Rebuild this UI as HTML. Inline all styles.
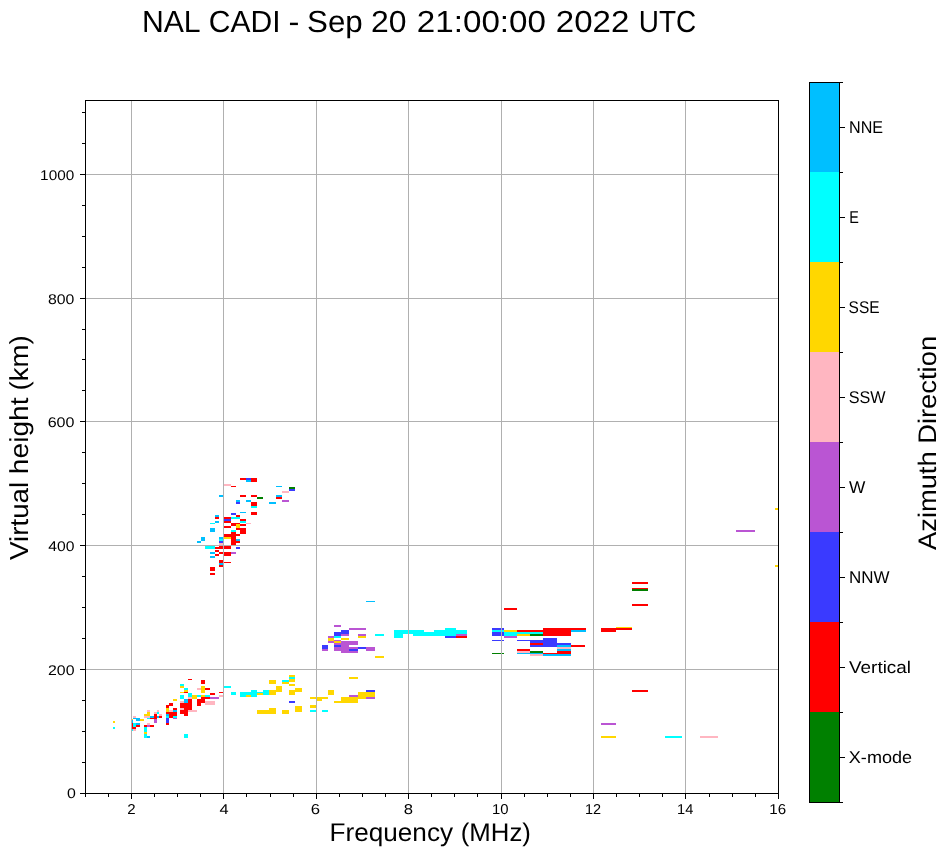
<!DOCTYPE html>
<html><head><meta charset="utf-8"><style>
html,body{margin:0;padding:0;background:#fff;width:951px;height:856px;overflow:hidden}
svg{display:block;will-change:transform} text{text-rendering:geometricPrecision}
</style></head><body>
<svg width="951" height="856" viewBox="0 0 951 856" shape-rendering="crispEdges">
<rect x="113.0" y="720.9" width="2.0" height="2.0" fill="#ffd700"/>
<rect x="113.0" y="726.9" width="2.0" height="2.0" fill="#00ffff"/>
<rect x="132.0" y="718.9" width="1.0" height="1.5" fill="#ffd700"/>
<rect x="132.0" y="720.4" width="1.0" height="2.5" fill="#00bfff"/>
<rect x="132.0" y="722.9" width="1.2" height="6.0" fill="#ff0000"/>
<rect x="132.0" y="728.9" width="1.2" height="2.0" fill="#00ffff"/>
<rect x="133.2" y="715.9" width="2.8" height="2.0" fill="#ffb6c1"/>
<rect x="133.2" y="717.9" width="2.8" height="1.0" fill="#00bfff"/>
<rect x="136.0" y="717.9" width="4.0" height="3.0" fill="#00bfff"/>
<rect x="140.0" y="718.9" width="4.0" height="2.0" fill="#ffd700"/>
<rect x="133.2" y="722.9" width="2.8" height="4.0" fill="#00ffff"/>
<rect x="136.0" y="722.9" width="4.0" height="2.0" fill="#00bfff"/>
<rect x="136.0" y="724.9" width="4.0" height="2.0" fill="#ff0000"/>
<rect x="133.2" y="726.9" width="2.8" height="2.0" fill="#ff0000"/>
<rect x="133.2" y="728.9" width="2.8" height="2.0" fill="#ffb6c1"/>
<rect x="147.0" y="710.0" width="3.0" height="2.0" fill="#ffb6c1"/>
<rect x="147.0" y="712.0" width="3.0" height="2.0" fill="#ffd700"/>
<rect x="144.0" y="714.0" width="6.0" height="1.9" fill="#ffd700"/>
<rect x="144.0" y="715.9" width="6.0" height="2.0" fill="#ffb6c1"/>
<rect x="147.0" y="717.9" width="3.0" height="1.0" fill="#00ffff"/>
<rect x="150.0" y="715.9" width="4.0" height="2.0" fill="#00bfff"/>
<rect x="150.0" y="717.9" width="4.0" height="1.0" fill="#ff0000"/>
<rect x="154.0" y="712.0" width="2.9" height="2.0" fill="#ffb6c1"/>
<rect x="156.9" y="712.0" width="2.0" height="2.0" fill="#00ffff"/>
<rect x="156.9" y="710.0" width="2.0" height="2.0" fill="#ffb6c1"/>
<rect x="154.0" y="714.0" width="2.9" height="4.9" fill="#ff0000"/>
<rect x="156.9" y="715.9" width="2.0" height="2.0" fill="#00bfff"/>
<rect x="158.9" y="714.0" width="3.0" height="1.9" fill="#ffb6c1"/>
<rect x="158.9" y="715.9" width="3.0" height="2.0" fill="#ff0000"/>
<rect x="154.0" y="718.9" width="2.9" height="4.0" fill="#ba55d3"/>
<rect x="147.0" y="722.9" width="3.0" height="2.0" fill="#ffb6c1"/>
<rect x="144.0" y="724.9" width="3.0" height="2.0" fill="#ff0000"/>
<rect x="147.0" y="724.9" width="3.0" height="2.0" fill="#ba55d3"/>
<rect x="150.0" y="724.9" width="4.0" height="2.0" fill="#ff0000"/>
<rect x="144.0" y="726.9" width="3.0" height="5.0" fill="#00ffff"/>
<rect x="144.0" y="731.9" width="3.0" height="2.0" fill="#ffd700"/>
<rect x="144.0" y="733.9" width="3.0" height="4.0" fill="#00ffff"/>
<rect x="147.0" y="735.9" width="3.0" height="2.0" fill="#00bfff"/>
<rect x="172.9" y="699.0" width="4.0" height="2.0" fill="#ffd700"/>
<rect x="165.9" y="705.0" width="3.0" height="3.0" fill="#ff0000"/>
<rect x="168.9" y="703.0" width="4.0" height="3.0" fill="#ff0000"/>
<rect x="165.9" y="708.0" width="3.0" height="4.0" fill="#ffd700"/>
<rect x="165.9" y="712.0" width="3.0" height="2.0" fill="#ff0000"/>
<rect x="165.9" y="714.0" width="3.0" height="1.9" fill="#00bfff"/>
<rect x="165.9" y="715.9" width="3.0" height="2.0" fill="#00ffff"/>
<rect x="165.9" y="717.9" width="3.0" height="5.0" fill="#3a3aff"/>
<rect x="165.9" y="722.9" width="3.0" height="2.0" fill="#ff0000"/>
<rect x="168.9" y="710.0" width="4.0" height="2.0" fill="#ffb6c1"/>
<rect x="168.9" y="712.0" width="4.0" height="5.9" fill="#ff0000"/>
<rect x="172.9" y="708.0" width="4.0" height="2.0" fill="#ff0000"/>
<rect x="172.9" y="710.0" width="4.0" height="2.0" fill="#00bfff"/>
<rect x="172.9" y="712.0" width="4.0" height="3.9" fill="#ff0000"/>
<rect x="172.9" y="715.9" width="4.0" height="2.0" fill="#00ffff"/>
<rect x="172.9" y="717.9" width="4.0" height="1.0" fill="#ba55d3"/>
<rect x="179.9" y="684.0" width="4.0" height="2.0" fill="#00ffff"/>
<rect x="179.9" y="686.0" width="4.0" height="2.0" fill="#ffd700"/>
<rect x="183.9" y="688.0" width="4.0" height="2.0" fill="#00ffff"/>
<rect x="183.9" y="690.0" width="4.0" height="2.0" fill="#ffd700"/>
<rect x="183.9" y="692.0" width="4.0" height="1.0" fill="#ff0000"/>
<rect x="179.9" y="692.0" width="4.0" height="1.0" fill="#ffd700"/>
<rect x="187.9" y="679.0" width="4.0" height="1.0" fill="#ff0000"/>
<rect x="196.9" y="688.0" width="3.1" height="2.0" fill="#ffb6c1"/>
<rect x="179.9" y="695.0" width="4.0" height="4.0" fill="#00ffff"/>
<rect x="187.9" y="693.0" width="4.0" height="4.0" fill="#00ffff"/>
<rect x="187.9" y="697.0" width="4.0" height="2.0" fill="#ffb6c1"/>
<rect x="191.9" y="695.0" width="5.0" height="4.0" fill="#ffd700"/>
<rect x="196.9" y="695.0" width="3.1" height="2.0" fill="#00ffff"/>
<rect x="179.9" y="701.0" width="4.0" height="2.0" fill="#ffb6c1"/>
<rect x="183.9" y="699.0" width="4.0" height="4.0" fill="#00bfff"/>
<rect x="187.9" y="699.0" width="4.0" height="11.0" fill="#ff0000"/>
<rect x="179.9" y="703.0" width="8.0" height="5.0" fill="#ff0000"/>
<rect x="179.9" y="708.0" width="4.0" height="2.0" fill="#ffb6c1"/>
<rect x="183.9" y="708.0" width="4.0" height="2.0" fill="#ff0000"/>
<rect x="179.9" y="710.0" width="8.0" height="4.0" fill="#ff0000"/>
<rect x="183.9" y="714.0" width="4.0" height="1.9" fill="#ff0000"/>
<rect x="187.9" y="710.0" width="9.0" height="2.0" fill="#ffb6c1"/>
<rect x="196.9" y="699.0" width="3.1" height="7.0" fill="#ff0000"/>
<rect x="183.9" y="733.9" width="4.0" height="4.0" fill="#00ffff"/>
<rect x="197.0" y="695.0" width="4.0" height="2.0" fill="#00ffff"/>
<rect x="197.0" y="699.0" width="4.0" height="7.0" fill="#ff0000"/>
<rect x="201.0" y="680.0" width="4.0" height="4.0" fill="#ff0000"/>
<rect x="197.0" y="688.0" width="4.0" height="2.0" fill="#ffb6c1"/>
<rect x="201.0" y="686.0" width="4.0" height="7.0" fill="#ffd700"/>
<rect x="205.0" y="688.0" width="5.0" height="2.0" fill="#ff0000"/>
<rect x="210.0" y="693.0" width="5.0" height="2.0" fill="#ff0000"/>
<rect x="219.0" y="692.0" width="4.0" height="1.0" fill="#ff0000"/>
<rect x="219.0" y="695.0" width="4.0" height="2.0" fill="#ffb6c1"/>
<rect x="201.0" y="695.0" width="4.0" height="2.0" fill="#ffd700"/>
<rect x="205.0" y="695.0" width="5.0" height="2.0" fill="#00ffff"/>
<rect x="201.0" y="697.0" width="9.0" height="2.0" fill="#ff0000"/>
<rect x="210.0" y="697.0" width="9.0" height="2.0" fill="#ba55d3"/>
<rect x="201.0" y="699.0" width="4.0" height="4.0" fill="#ff0000"/>
<rect x="205.0" y="701.0" width="10.0" height="4.0" fill="#ffb6c1"/>
<rect x="195.0" y="710.0" width="2.0" height="2.0" fill="#ffb6c1"/>
<rect x="224.0" y="686.0" width="7.0" height="2.0" fill="#00ffff"/>
<rect x="231.0" y="692.0" width="5.0" height="3.0" fill="#00ffff"/>
<rect x="240.0" y="692.0" width="10.9" height="5.0" fill="#00ffff"/>
<rect x="245.9" y="695.0" width="5.0" height="2.0" fill="#ffd700"/>
<rect x="250.9" y="690.0" width="6.0" height="7.0" fill="#00ffff"/>
<rect x="256.9" y="692.0" width="6.0" height="1.0" fill="#00ffff"/>
<rect x="256.9" y="693.0" width="6.0" height="2.0" fill="#ffd700"/>
<rect x="262.9" y="690.0" width="6.0" height="5.0" fill="#00ffff"/>
<rect x="268.9" y="690.0" width="7.0" height="5.0" fill="#ffd700"/>
<rect x="275.9" y="686.0" width="6.0" height="6.0" fill="#ffd700"/>
<rect x="268.9" y="680.0" width="7.0" height="4.0" fill="#ffd700"/>
<rect x="281.9" y="680.0" width="7.0" height="2.0" fill="#00ffff"/>
<rect x="281.9" y="682.0" width="7.0" height="2.0" fill="#ffd700"/>
<rect x="256.9" y="710.0" width="12.0" height="4.0" fill="#ffd700"/>
<rect x="268.9" y="708.0" width="7.0" height="6.0" fill="#ffd700"/>
<rect x="281.9" y="710.0" width="7.0" height="4.0" fill="#ffd700"/>
<rect x="289.0" y="675.0" width="6.0" height="2.0" fill="#ffd700"/>
<rect x="289.0" y="677.0" width="6.0" height="2.0" fill="#00ffff"/>
<rect x="289.0" y="679.0" width="6.0" height="3.0" fill="#ffd700"/>
<rect x="289.0" y="684.0" width="6.0" height="2.0" fill="#ffd700"/>
<rect x="289.0" y="690.0" width="6.0" height="5.0" fill="#ffd700"/>
<rect x="295.0" y="688.0" width="7.0" height="4.0" fill="#ffd700"/>
<rect x="289.0" y="701.0" width="6.0" height="2.0" fill="#3a3aff"/>
<rect x="295.0" y="706.0" width="7.0" height="6.0" fill="#ffd700"/>
<rect x="310.0" y="697.0" width="6.0" height="2.0" fill="#ffd700"/>
<rect x="317.0" y="697.0" width="11.0" height="2.0" fill="#ffd700"/>
<rect x="317.0" y="699.0" width="5.0" height="2.0" fill="#ffd700"/>
<rect x="310.0" y="705.0" width="6.0" height="3.0" fill="#ffd700"/>
<rect x="310.0" y="710.0" width="6.0" height="2.0" fill="#00ffff"/>
<rect x="322.0" y="710.0" width="6.0" height="2.0" fill="#00ffff"/>
<rect x="328.0" y="690.0" width="6.0" height="5.0" fill="#ffd700"/>
<rect x="348.9" y="677.0" width="9.0" height="2.0" fill="#ffd700"/>
<rect x="334.0" y="701.0" width="6.9" height="2.0" fill="#ffd700"/>
<rect x="340.9" y="697.0" width="17.0" height="6.0" fill="#ffd700"/>
<rect x="348.9" y="695.0" width="9.0" height="2.0" fill="#ba55d3"/>
<rect x="357.9" y="692.0" width="8.0" height="7.0" fill="#ffd700"/>
<rect x="365.9" y="692.0" width="9.0" height="5.0" fill="#ffd700"/>
<rect x="365.9" y="690.0" width="9.0" height="2.0" fill="#3a3aff"/>
<rect x="365.9" y="697.0" width="9.0" height="2.0" fill="#ba55d3"/>
<rect x="365.9" y="601.0" width="9.0" height="1.0" fill="#00bfff"/>
<rect x="334.0" y="625.0" width="7.0" height="2.0" fill="#ba55d3"/>
<rect x="349.0" y="628.0" width="16.9" height="2.0" fill="#ba55d3"/>
<rect x="334.0" y="632.0" width="7.0" height="3.9" fill="#3a3aff"/>
<rect x="341.0" y="630.0" width="8.0" height="4.0" fill="#3a3aff"/>
<rect x="341.0" y="634.0" width="8.0" height="1.9" fill="#ba55d3"/>
<rect x="358.0" y="634.0" width="7.9" height="1.9" fill="#ba55d3"/>
<rect x="358.0" y="635.9" width="7.9" height="2.0" fill="#ffd700"/>
<rect x="328.0" y="635.9" width="6.0" height="2.0" fill="#ba55d3"/>
<rect x="334.0" y="635.9" width="7.0" height="2.0" fill="#00ffff"/>
<rect x="328.0" y="637.9" width="6.0" height="3.0" fill="#ffd700"/>
<rect x="328.0" y="640.9" width="6.0" height="2.0" fill="#ba55d3"/>
<rect x="341.0" y="637.9" width="8.0" height="2.0" fill="#ffd700"/>
<rect x="334.0" y="639.9" width="7.0" height="1.0" fill="#ba55d3"/>
<rect x="334.0" y="640.9" width="7.0" height="2.0" fill="#ffd700"/>
<rect x="341.0" y="640.9" width="17.0" height="4.0" fill="#ba55d3"/>
<rect x="334.0" y="642.9" width="7.0" height="2.0" fill="#ba55d3"/>
<rect x="334.0" y="644.9" width="7.0" height="2.0" fill="#3a3aff"/>
<rect x="334.0" y="646.9" width="7.0" height="4.0" fill="#ba55d3"/>
<rect x="341.0" y="644.9" width="8.0" height="8.0" fill="#ba55d3"/>
<rect x="322.0" y="644.9" width="6.0" height="4.0" fill="#3a3aff"/>
<rect x="322.0" y="648.9" width="6.0" height="2.0" fill="#ba55d3"/>
<rect x="349.0" y="646.9" width="9.0" height="2.0" fill="#ba55d3"/>
<rect x="349.0" y="648.9" width="9.0" height="2.0" fill="#3a3aff"/>
<rect x="349.0" y="650.9" width="9.0" height="2.0" fill="#ba55d3"/>
<rect x="358.0" y="646.9" width="7.9" height="2.0" fill="#3a3aff"/>
<rect x="365.9" y="646.9" width="9.0" height="4.0" fill="#ba55d3"/>
<rect x="374.9" y="634.0" width="9.0" height="1.9" fill="#00ffff"/>
<rect x="374.9" y="655.9" width="9.0" height="2.0" fill="#ffd700"/>
<rect x="393.9" y="630.0" width="9.0" height="7.9" fill="#00ffff"/>
<rect x="402.9" y="630.0" width="7.1" height="4.0" fill="#00ffff"/>
<rect x="405.0" y="630.0" width="8.0" height="4.0" fill="#00ffff"/>
<rect x="413.0" y="630.0" width="11.0" height="5.9" fill="#00ffff"/>
<rect x="424.0" y="632.0" width="10.0" height="3.9" fill="#00ffff"/>
<rect x="434.0" y="630.0" width="11.0" height="5.9" fill="#00ffff"/>
<rect x="445.0" y="628.0" width="10.9" height="7.9" fill="#00ffff"/>
<rect x="455.9" y="630.0" width="11.0" height="4.0" fill="#00ffff"/>
<rect x="445.0" y="635.9" width="10.9" height="2.0" fill="#3a3aff"/>
<rect x="455.9" y="634.0" width="11.0" height="1.9" fill="#ba55d3"/>
<rect x="455.9" y="635.9" width="11.0" height="2.0" fill="#ff0000"/>
<rect x="491.9" y="628.0" width="8.1" height="2.0" fill="#3a3aff"/>
<rect x="491.9" y="630.0" width="8.1" height="2.0" fill="#00ffff"/>
<rect x="491.9" y="632.0" width="8.1" height="3.9" fill="#3a3aff"/>
<rect x="491.9" y="639.9" width="8.1" height="1.0" fill="#3a3aff"/>
<rect x="491.9" y="652.9" width="8.1" height="1.0" fill="#008000"/>
<rect x="504.0" y="608.0" width="13.0" height="2.0" fill="#ff0000"/>
<rect x="492.0" y="628.0" width="12.0" height="2.0" fill="#3a3aff"/>
<rect x="492.0" y="630.0" width="12.0" height="2.0" fill="#00ffff"/>
<rect x="492.0" y="632.0" width="12.0" height="3.9" fill="#3a3aff"/>
<rect x="492.0" y="639.9" width="12.0" height="1.0" fill="#3a3aff"/>
<rect x="492.0" y="652.9" width="12.0" height="1.0" fill="#008000"/>
<rect x="504.0" y="630.0" width="13.0" height="2.0" fill="#ffd700"/>
<rect x="504.0" y="632.0" width="13.0" height="3.9" fill="#00ffff"/>
<rect x="504.0" y="635.9" width="13.0" height="2.0" fill="#ba55d3"/>
<rect x="517.0" y="630.0" width="25.9" height="2.0" fill="#ff0000"/>
<rect x="517.0" y="632.0" width="25.9" height="2.0" fill="#00ffff"/>
<rect x="517.0" y="634.0" width="13.0" height="1.9" fill="#ffd700"/>
<rect x="530.0" y="634.0" width="12.9" height="1.9" fill="#008000"/>
<rect x="542.9" y="628.0" width="28.0" height="7.9" fill="#ff0000"/>
<rect x="570.9" y="628.0" width="14.1" height="2.0" fill="#ff0000"/>
<rect x="570.9" y="630.0" width="14.1" height="2.0" fill="#00bfff"/>
<rect x="517.0" y="639.9" width="13.0" height="1.0" fill="#3a3aff"/>
<rect x="530.0" y="639.9" width="12.9" height="3.0" fill="#3a3aff"/>
<rect x="530.0" y="642.9" width="12.9" height="2.0" fill="#ff0000"/>
<rect x="530.0" y="644.9" width="12.9" height="2.0" fill="#3a3aff"/>
<rect x="542.9" y="637.9" width="14.0" height="9.0" fill="#3a3aff"/>
<rect x="556.9" y="642.9" width="14.0" height="2.0" fill="#3a3aff"/>
<rect x="556.9" y="644.9" width="14.0" height="2.0" fill="#00bfff"/>
<rect x="556.9" y="646.9" width="14.0" height="2.0" fill="#ffb6c1"/>
<rect x="556.9" y="648.9" width="14.0" height="2.0" fill="#00bfff"/>
<rect x="556.9" y="650.9" width="14.0" height="3.0" fill="#ff0000"/>
<rect x="570.9" y="644.9" width="14.1" height="2.0" fill="#ff0000"/>
<rect x="517.0" y="648.9" width="13.0" height="2.0" fill="#ff0000"/>
<rect x="517.0" y="650.9" width="13.0" height="2.0" fill="#ffb6c1"/>
<rect x="517.0" y="652.9" width="13.0" height="1.0" fill="#00bfff"/>
<rect x="530.0" y="650.9" width="12.9" height="2.0" fill="#008000"/>
<rect x="530.0" y="652.9" width="12.9" height="1.0" fill="#00bfff"/>
<rect x="530.0" y="653.9" width="12.9" height="2.0" fill="#ffb6c1"/>
<rect x="542.9" y="652.9" width="14.0" height="1.0" fill="#ff0000"/>
<rect x="542.9" y="653.9" width="28.0" height="2.0" fill="#00bfff"/>
<rect x="580.0" y="627.9" width="6.0" height="2.0" fill="#ff0000"/>
<rect x="580.0" y="629.9" width="6.0" height="2.0" fill="#00bfff"/>
<rect x="631.9" y="582.0" width="16.0" height="2.0" fill="#ff0000"/>
<rect x="631.9" y="588.0" width="16.0" height="1.0" fill="#ff0000"/>
<rect x="631.9" y="589.0" width="16.0" height="2.0" fill="#008000"/>
<rect x="631.9" y="604.0" width="16.0" height="2.0" fill="#ff0000"/>
<rect x="601.0" y="627.9" width="15.0" height="4.0" fill="#ff0000"/>
<rect x="616.0" y="626.9" width="15.9" height="1.0" fill="#ffd700"/>
<rect x="616.0" y="627.9" width="15.9" height="2.0" fill="#ff0000"/>
<rect x="632.0" y="690.0" width="16.0" height="2.0" fill="#ff0000"/>
<rect x="601.0" y="723.0" width="15.0" height="2.0" fill="#ba55d3"/>
<rect x="601.0" y="736.0" width="15.0" height="2.0" fill="#ffd700"/>
<rect x="665.0" y="736.0" width="17.0" height="2.0" fill="#00ffff"/>
<rect x="700.0" y="736.0" width="18.0" height="2.0" fill="#ffb6c1"/>
<rect x="736.0" y="530.0" width="19.0" height="2.0" fill="#ba55d3"/>
<rect x="775.0" y="508.0" width="3.0" height="2.0" fill="#ffd700"/>
<rect x="775.0" y="565.0" width="3.0" height="2.0" fill="#ffd700"/>
<rect x="240.0" y="478.0" width="5.9" height="2.0" fill="#ff0000"/>
<rect x="245.9" y="478.0" width="5.0" height="2.0" fill="#3a3aff"/>
<rect x="245.9" y="480.0" width="5.0" height="2.0" fill="#00bfff"/>
<rect x="250.9" y="478.0" width="6.0" height="4.0" fill="#ff0000"/>
<rect x="224.0" y="484.0" width="7.0" height="2.0" fill="#ffb6c1"/>
<rect x="231.0" y="486.0" width="5.0" height="1.0" fill="#ff0000"/>
<rect x="275.9" y="486.0" width="6.0" height="1.0" fill="#00bfff"/>
<rect x="281.9" y="491.0" width="7.0" height="2.0" fill="#ffb6c1"/>
<rect x="219.0" y="495.0" width="4.0" height="2.0" fill="#00bfff"/>
<rect x="240.0" y="495.0" width="5.9" height="2.0" fill="#ff0000"/>
<rect x="250.9" y="495.0" width="6.0" height="2.0" fill="#ff0000"/>
<rect x="256.9" y="497.0" width="6.0" height="2.0" fill="#008000"/>
<rect x="275.9" y="495.0" width="6.0" height="2.0" fill="#00bfff"/>
<rect x="275.9" y="497.0" width="6.0" height="2.0" fill="#ff0000"/>
<rect x="236.0" y="500.0" width="4.0" height="2.0" fill="#00bfff"/>
<rect x="236.0" y="502.0" width="4.0" height="2.0" fill="#3a3aff"/>
<rect x="245.9" y="500.0" width="5.0" height="2.0" fill="#00bfff"/>
<rect x="250.9" y="502.0" width="6.0" height="4.0" fill="#ff0000"/>
<rect x="250.9" y="506.0" width="6.0" height="2.0" fill="#00ffff"/>
<rect x="268.9" y="502.0" width="7.0" height="2.0" fill="#00bfff"/>
<rect x="281.9" y="500.0" width="7.0" height="2.0" fill="#ba55d3"/>
<rect x="231.0" y="513.0" width="5.0" height="2.0" fill="#3a3aff"/>
<rect x="240.0" y="512.0" width="5.9" height="1.0" fill="#00bfff"/>
<rect x="250.9" y="512.0" width="6.0" height="3.0" fill="#ff0000"/>
<rect x="215.0" y="515.0" width="4.0" height="2.0" fill="#00bfff"/>
<rect x="215.0" y="517.0" width="4.0" height="2.0" fill="#ff0000"/>
<rect x="236.0" y="515.0" width="4.0" height="2.0" fill="#ff0000"/>
<rect x="224.0" y="517.0" width="7.0" height="2.0" fill="#ff0000"/>
<rect x="231.0" y="517.0" width="9.0" height="2.0" fill="#00ffff"/>
<rect x="224.0" y="519.0" width="7.0" height="1.9" fill="#3a3aff"/>
<rect x="224.0" y="520.9" width="7.0" height="2.0" fill="#ff0000"/>
<rect x="240.0" y="519.0" width="5.9" height="1.9" fill="#ff0000"/>
<rect x="240.0" y="520.9" width="5.9" height="2.0" fill="#00ffff"/>
<rect x="215.0" y="520.9" width="4.0" height="2.0" fill="#00bfff"/>
<rect x="210.0" y="522.9" width="5.0" height="1.0" fill="#00ffff"/>
<rect x="245.9" y="522.9" width="5.0" height="1.0" fill="#ffb6c1"/>
<rect x="231.0" y="522.9" width="5.0" height="3.0" fill="#ff0000"/>
<rect x="236.0" y="522.9" width="4.0" height="1.0" fill="#ff0000"/>
<rect x="236.0" y="523.9" width="4.0" height="4.0" fill="#ffd700"/>
<rect x="240.0" y="523.9" width="5.9" height="2.0" fill="#ff0000"/>
<rect x="224.0" y="525.9" width="7.0" height="2.0" fill="#ff0000"/>
<rect x="210.0" y="527.9" width="5.0" height="4.0" fill="#00bfff"/>
<rect x="236.0" y="527.9" width="4.0" height="2.0" fill="#ff0000"/>
<rect x="240.0" y="527.9" width="5.9" height="6.0" fill="#ff0000"/>
<rect x="231.0" y="529.9" width="5.0" height="2.0" fill="#00ffff"/>
<rect x="231.0" y="531.9" width="5.0" height="13.0" fill="#ff0000"/>
<rect x="224.0" y="533.9" width="7.0" height="3.0" fill="#ff0000"/>
<rect x="236.0" y="533.9" width="4.0" height="2.0" fill="#ff0000"/>
<rect x="224.0" y="536.9" width="7.0" height="2.0" fill="#ffd700"/>
<rect x="201.0" y="536.9" width="4.0" height="4.0" fill="#00bfff"/>
<rect x="197.0" y="540.9" width="4.0" height="2.0" fill="#00bfff"/>
<rect x="219.0" y="536.9" width="4.0" height="2.0" fill="#00bfff"/>
<rect x="219.0" y="538.9" width="4.0" height="2.0" fill="#00ffff"/>
<rect x="219.0" y="540.9" width="4.0" height="2.0" fill="#3a3aff"/>
<rect x="219.0" y="542.9" width="4.0" height="2.0" fill="#ffb6c1"/>
<rect x="236.0" y="538.9" width="4.0" height="2.0" fill="#00bfff"/>
<rect x="236.0" y="540.9" width="4.0" height="2.0" fill="#ff0000"/>
<rect x="205.0" y="545.9" width="10.0" height="3.0" fill="#00ffff"/>
<rect x="215.0" y="546.9" width="4.0" height="2.0" fill="#ff0000"/>
<rect x="219.0" y="545.9" width="4.0" height="3.0" fill="#ff0000"/>
<rect x="224.0" y="545.9" width="7.0" height="3.0" fill="#ff0000"/>
<rect x="236.0" y="546.9" width="4.0" height="2.0" fill="#3a3aff"/>
<rect x="215.0" y="549.9" width="4.0" height="2.0" fill="#ff0000"/>
<rect x="210.0" y="551.9" width="5.0" height="2.0" fill="#00bfff"/>
<rect x="219.0" y="551.9" width="4.0" height="2.0" fill="#ff0000"/>
<rect x="224.0" y="551.9" width="7.0" height="3.1" fill="#ff0000"/>
<rect x="231.0" y="551.9" width="5.0" height="2.0" fill="#ba55d3"/>
<rect x="215.0" y="554.0" width="4.0" height="2.0" fill="#ff0000"/>
<rect x="210.0" y="556.0" width="5.0" height="2.0" fill="#00bfff"/>
<rect x="219.0" y="560.0" width="4.0" height="3.0" fill="#ff0000"/>
<rect x="219.0" y="563.0" width="4.0" height="2.0" fill="#00bfff"/>
<rect x="219.0" y="565.0" width="4.0" height="2.0" fill="#ff0000"/>
<rect x="224.0" y="562.0" width="7.0" height="1.0" fill="#ff0000"/>
<rect x="210.0" y="567.0" width="5.0" height="4.0" fill="#ff0000"/>
<rect x="210.0" y="573.0" width="5.0" height="2.0" fill="#ff0000"/>
<rect x="210.0" y="552.0" width="5.0" height="2.0" fill="#00bfff"/>
<rect x="219.0" y="552.0" width="4.0" height="2.0" fill="#ff0000"/>
<rect x="224.0" y="552.0" width="7.0" height="4.0" fill="#ff0000"/>
<rect x="231.0" y="552.0" width="5.0" height="2.0" fill="#ba55d3"/>
<rect x="289.0" y="487.0" width="6.0" height="2.0" fill="#008000"/>
<rect x="289.0" y="489.0" width="6.0" height="2.0" fill="#3a3aff"/>
<rect x="131" y="101" width="1" height="692" fill="#b0b0b0"/>
<rect x="223" y="101" width="1" height="692" fill="#b0b0b0"/>
<rect x="316" y="101" width="1" height="692" fill="#b0b0b0"/>
<rect x="408" y="101" width="1" height="692" fill="#b0b0b0"/>
<rect x="501" y="101" width="1" height="692" fill="#b0b0b0"/>
<rect x="593" y="101" width="1" height="692" fill="#b0b0b0"/>
<rect x="685" y="101" width="1" height="692" fill="#b0b0b0"/>
<rect x="86" y="669" width="692" height="1" fill="#b0b0b0"/>
<rect x="86" y="545" width="692" height="1" fill="#b0b0b0"/>
<rect x="86" y="421" width="692" height="1" fill="#b0b0b0"/>
<rect x="86" y="298" width="692" height="1" fill="#b0b0b0"/>
<rect x="86" y="174" width="692" height="1" fill="#b0b0b0"/>
<rect x="85" y="100" width="694" height="1" fill="#000"/>
<rect x="85" y="793" width="694" height="1" fill="#000"/>
<rect x="85" y="100" width="1" height="694" fill="#000"/>
<rect x="778" y="100" width="1" height="694" fill="#000"/>
<rect x="85" y="794" width="1" height="3" fill="#000"/>
<rect x="108" y="794" width="1" height="3" fill="#000"/>
<rect x="131" y="794" width="1" height="5" fill="#000"/>
<rect x="154" y="794" width="1" height="3" fill="#000"/>
<rect x="177" y="794" width="1" height="3" fill="#000"/>
<rect x="200" y="794" width="1" height="3" fill="#000"/>
<rect x="223" y="794" width="1" height="5" fill="#000"/>
<rect x="246" y="794" width="1" height="3" fill="#000"/>
<rect x="270" y="794" width="1" height="3" fill="#000"/>
<rect x="293" y="794" width="1" height="3" fill="#000"/>
<rect x="316" y="794" width="1" height="5" fill="#000"/>
<rect x="339" y="794" width="1" height="3" fill="#000"/>
<rect x="362" y="794" width="1" height="3" fill="#000"/>
<rect x="385" y="794" width="1" height="3" fill="#000"/>
<rect x="408" y="794" width="1" height="5" fill="#000"/>
<rect x="431" y="794" width="1" height="3" fill="#000"/>
<rect x="454" y="794" width="1" height="3" fill="#000"/>
<rect x="477" y="794" width="1" height="3" fill="#000"/>
<rect x="501" y="794" width="1" height="5" fill="#000"/>
<rect x="524" y="794" width="1" height="3" fill="#000"/>
<rect x="547" y="794" width="1" height="3" fill="#000"/>
<rect x="570" y="794" width="1" height="3" fill="#000"/>
<rect x="593" y="794" width="1" height="5" fill="#000"/>
<rect x="616" y="794" width="1" height="3" fill="#000"/>
<rect x="639" y="794" width="1" height="3" fill="#000"/>
<rect x="662" y="794" width="1" height="3" fill="#000"/>
<rect x="685" y="794" width="1" height="5" fill="#000"/>
<rect x="709" y="794" width="1" height="3" fill="#000"/>
<rect x="732" y="794" width="1" height="3" fill="#000"/>
<rect x="755" y="794" width="1" height="3" fill="#000"/>
<rect x="778" y="794" width="1" height="5" fill="#000"/>
<text x="131.38" y="814.00" font-family="'Liberation Sans', sans-serif" font-size="14.3" text-anchor="middle" textLength="8.38" lengthAdjust="spacingAndGlyphs">2</text>
<text x="224.11" y="814.00" font-family="'Liberation Sans', sans-serif" font-size="14.3" text-anchor="middle" textLength="9.11" lengthAdjust="spacingAndGlyphs">4</text>
<text x="315.33" y="814.00" font-family="'Liberation Sans', sans-serif" font-size="14.3" text-anchor="middle" textLength="9.30" lengthAdjust="spacingAndGlyphs">6</text>
<text x="408.44" y="814.00" font-family="'Liberation Sans', sans-serif" font-size="14.3" text-anchor="middle" textLength="9.27" lengthAdjust="spacingAndGlyphs">8</text>
<text x="500.34" y="814.00" font-family="'Liberation Sans', sans-serif" font-size="14.3" text-anchor="middle" textLength="16.53" lengthAdjust="spacingAndGlyphs">10</text>
<text x="593.09" y="814.00" font-family="'Liberation Sans', sans-serif" font-size="14.3" text-anchor="middle" textLength="16.11" lengthAdjust="spacingAndGlyphs">12</text>
<text x="685.22" y="814.00" font-family="'Liberation Sans', sans-serif" font-size="14.3" text-anchor="middle" textLength="16.23" lengthAdjust="spacingAndGlyphs">14</text>
<text x="777.74" y="814.00" font-family="'Liberation Sans', sans-serif" font-size="14.3" text-anchor="middle" textLength="16.81" lengthAdjust="spacingAndGlyphs">16</text>
<rect x="80" y="793" width="5" height="1" fill="#000"/>
<rect x="82" y="762" width="3" height="1" fill="#000"/>
<rect x="82" y="731" width="3" height="1" fill="#000"/>
<rect x="82" y="700" width="3" height="1" fill="#000"/>
<rect x="80" y="669" width="5" height="1" fill="#000"/>
<rect x="82" y="638" width="3" height="1" fill="#000"/>
<rect x="82" y="607" width="3" height="1" fill="#000"/>
<rect x="82" y="576" width="3" height="1" fill="#000"/>
<rect x="80" y="545" width="5" height="1" fill="#000"/>
<rect x="82" y="514" width="3" height="1" fill="#000"/>
<rect x="82" y="483" width="3" height="1" fill="#000"/>
<rect x="82" y="452" width="3" height="1" fill="#000"/>
<rect x="80" y="421" width="5" height="1" fill="#000"/>
<rect x="82" y="390" width="3" height="1" fill="#000"/>
<rect x="82" y="359" width="3" height="1" fill="#000"/>
<rect x="82" y="329" width="3" height="1" fill="#000"/>
<rect x="80" y="298" width="5" height="1" fill="#000"/>
<rect x="82" y="267" width="3" height="1" fill="#000"/>
<rect x="82" y="236" width="3" height="1" fill="#000"/>
<rect x="82" y="205" width="3" height="1" fill="#000"/>
<rect x="80" y="174" width="5" height="1" fill="#000"/>
<rect x="82" y="143" width="3" height="1" fill="#000"/>
<rect x="82" y="112" width="3" height="1" fill="#000"/>
<text x="75.99" y="797.50" font-family="'Liberation Sans', sans-serif" font-size="14.1" text-anchor="end" textLength="8.85" lengthAdjust="spacingAndGlyphs">0</text>
<text x="74.47" y="674.50" font-family="'Liberation Sans', sans-serif" font-size="14.1" text-anchor="end" textLength="26.45" lengthAdjust="spacingAndGlyphs">200</text>
<text x="74.47" y="550.50" font-family="'Liberation Sans', sans-serif" font-size="14.1" text-anchor="end" textLength="26.20" lengthAdjust="spacingAndGlyphs">400</text>
<text x="74.45" y="426.50" font-family="'Liberation Sans', sans-serif" font-size="14.1" text-anchor="end" textLength="26.80" lengthAdjust="spacingAndGlyphs">600</text>
<text x="74.33" y="303.50" font-family="'Liberation Sans', sans-serif" font-size="14.1" text-anchor="end" textLength="26.40" lengthAdjust="spacingAndGlyphs">800</text>
<text x="74.18" y="179.50" font-family="'Liberation Sans', sans-serif" font-size="14.1" text-anchor="end" textLength="34.05" lengthAdjust="spacingAndGlyphs">1000</text>
<text x="141.90" y="32.00" font-family="'Liberation Sans', sans-serif" font-size="30.5" textLength="58.75" lengthAdjust="spacingAndGlyphs">NAL</text>
<text x="208.85" y="32.00" font-family="'Liberation Sans', sans-serif" font-size="30.5" textLength="71.84" lengthAdjust="spacingAndGlyphs">CADI</text>
<text x="288.48" y="32.00" font-family="'Liberation Sans', sans-serif" font-size="30.5" textLength="10.91" lengthAdjust="spacingAndGlyphs">-</text>
<text x="307.04" y="32.00" font-family="'Liberation Sans', sans-serif" font-size="30.5" textLength="55.71" lengthAdjust="spacingAndGlyphs">Sep</text>
<text x="371.02" y="32.00" font-family="'Liberation Sans', sans-serif" font-size="30.5" textLength="35.54" lengthAdjust="spacingAndGlyphs">20</text>
<text x="416.84" y="32.00" font-family="'Liberation Sans', sans-serif" font-size="30.5" textLength="129.16" lengthAdjust="spacingAndGlyphs">21:00:00</text>
<text x="555.74" y="32.00" font-family="'Liberation Sans', sans-serif" font-size="30.5" textLength="73.58" lengthAdjust="spacingAndGlyphs">2022</text>
<text x="638.81" y="32.00" font-family="'Liberation Sans', sans-serif" font-size="30.5" textLength="57.40" lengthAdjust="spacingAndGlyphs">UTC</text>
<text x="329.56" y="841.00" font-family="'Liberation Sans', sans-serif" font-size="25.6" textLength="123.48" lengthAdjust="spacingAndGlyphs">Frequency</text>
<text x="460.73" y="841.00" font-family="'Liberation Sans', sans-serif" font-size="25.6" textLength="70.18" lengthAdjust="spacingAndGlyphs">(MHz)</text>
<text transform="translate(27.90,559.92) rotate(-90)" font-family="'Liberation Sans', sans-serif" font-size="26.0" textLength="78.07" lengthAdjust="spacingAndGlyphs">Virtual</text>
<text transform="translate(27.90,474.15) rotate(-90)" font-family="'Liberation Sans', sans-serif" font-size="26.0" textLength="76.75" lengthAdjust="spacingAndGlyphs">height</text>
<text transform="translate(27.90,390.55) rotate(-90)" font-family="'Liberation Sans', sans-serif" font-size="26.0" textLength="55.33" lengthAdjust="spacingAndGlyphs">(km)</text>
<rect x="809" y="82" width="31" height="90" fill="#00bfff"/>
<rect x="809" y="172" width="31" height="90" fill="#00ffff"/>
<rect x="809" y="262" width="31" height="90" fill="#ffd700"/>
<rect x="809" y="352" width="31" height="90" fill="#ffb6c1"/>
<rect x="809" y="442" width="31" height="90" fill="#ba55d3"/>
<rect x="809" y="532" width="31" height="90" fill="#3a3aff"/>
<rect x="809" y="622" width="31" height="90" fill="#ff0000"/>
<rect x="809" y="712" width="31" height="90" fill="#008000"/>
<rect x="809" y="82" width="31" height="1" fill="#000"/>
<rect x="809" y="802" width="31" height="1" fill="#000"/>
<rect x="809" y="82" width="1" height="721" fill="#000"/>
<rect x="839" y="82" width="1" height="721" fill="#000"/>
<rect x="840" y="82" width="3" height="1" fill="#000"/>
<rect x="840" y="172" width="3" height="1" fill="#000"/>
<rect x="840" y="262" width="3" height="1" fill="#000"/>
<rect x="840" y="352" width="3" height="1" fill="#000"/>
<rect x="840" y="442" width="3" height="1" fill="#000"/>
<rect x="840" y="532" width="3" height="1" fill="#000"/>
<rect x="840" y="622" width="3" height="1" fill="#000"/>
<rect x="840" y="712" width="3" height="1" fill="#000"/>
<rect x="840" y="802" width="3" height="1" fill="#000"/>
<rect x="840" y="127" width="5" height="1" fill="#000"/>
<text x="848.99" y="132.80" font-family="'Liberation Sans', sans-serif" font-size="17.0" textLength="34.05" lengthAdjust="spacingAndGlyphs">NNE</text>
<rect x="840" y="217" width="5" height="1" fill="#000"/>
<text x="849.34" y="222.80" font-family="'Liberation Sans', sans-serif" font-size="17.0" textLength="9.62" lengthAdjust="spacingAndGlyphs">E</text>
<rect x="840" y="307" width="5" height="1" fill="#000"/>
<text x="848.58" y="312.80" font-family="'Liberation Sans', sans-serif" font-size="17.0" textLength="30.98" lengthAdjust="spacingAndGlyphs">SSE</text>
<rect x="840" y="397" width="5" height="1" fill="#000"/>
<text x="848.72" y="402.80" font-family="'Liberation Sans', sans-serif" font-size="17.0" textLength="36.88" lengthAdjust="spacingAndGlyphs">SSW</text>
<rect x="840" y="487" width="5" height="1" fill="#000"/>
<text x="848.98" y="492.80" font-family="'Liberation Sans', sans-serif" font-size="17.0" textLength="16.36" lengthAdjust="spacingAndGlyphs">W</text>
<rect x="840" y="577" width="5" height="1" fill="#000"/>
<text x="848.93" y="582.80" font-family="'Liberation Sans', sans-serif" font-size="17.0" textLength="40.53" lengthAdjust="spacingAndGlyphs">NNW</text>
<rect x="840" y="667" width="5" height="1" fill="#000"/>
<text x="849.05" y="672.80" font-family="'Liberation Sans', sans-serif" font-size="17.0" textLength="61.99" lengthAdjust="spacingAndGlyphs">Vertical</text>
<rect x="840" y="757" width="5" height="1" fill="#000"/>
<text x="848.84" y="762.80" font-family="'Liberation Sans', sans-serif" font-size="17.0" textLength="63.20" lengthAdjust="spacingAndGlyphs">X-mode</text>
<text transform="translate(935.70,549.93) rotate(-90)" font-family="'Liberation Sans', sans-serif" font-size="25.4" textLength="98.48" lengthAdjust="spacingAndGlyphs">Azimuth</text>
<text transform="translate(935.70,443.82) rotate(-90)" font-family="'Liberation Sans', sans-serif" font-size="25.4" textLength="107.94" lengthAdjust="spacingAndGlyphs">Direction</text>
</svg>
</body></html>
